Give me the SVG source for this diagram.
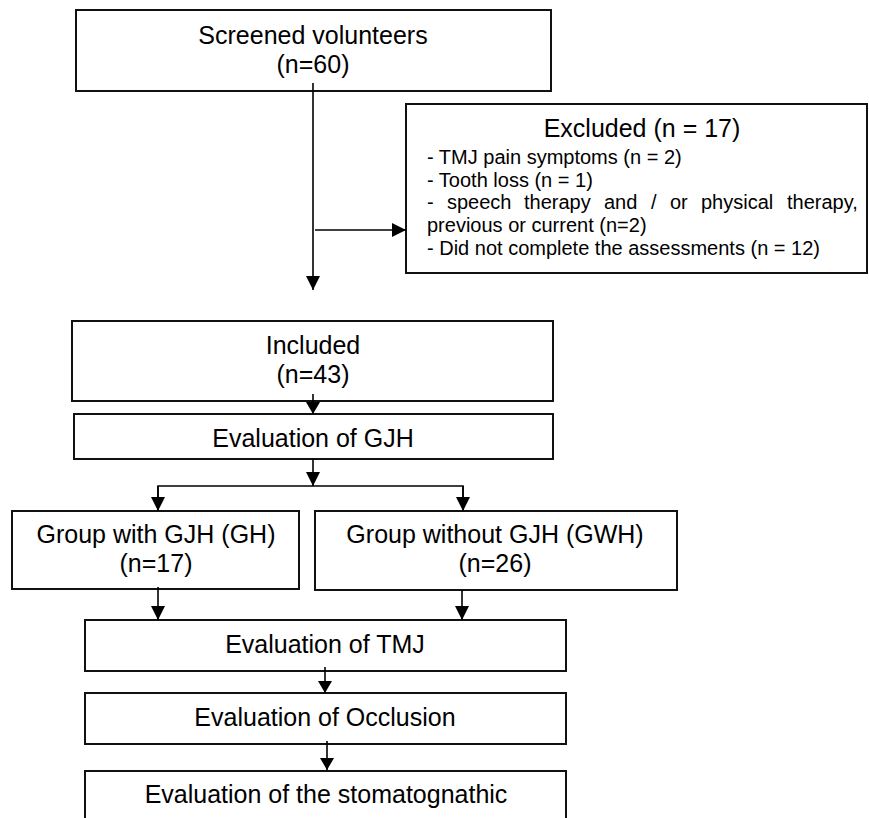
<svg xmlns="http://www.w3.org/2000/svg" width="869" height="818" viewBox="0 0 869 818">
<style>
  .box { fill: #ffffff; stroke: #111111; stroke-width: 2; }
  .t { font-family: "Liberation Sans", Arial, sans-serif; font-size: 25px; fill: #000000; text-anchor: middle; }
  .s { font-family: "Liberation Sans", Arial, sans-serif; font-size: 20px; fill: #000000; }
  .ln { fill: none; stroke: #000000; stroke-width: 1.6; }
</style>
<defs>
  <marker id="ah" markerWidth="14" markerHeight="14" refX="14" refY="7" orient="auto" markerUnits="userSpaceOnUse">
    <path d="M0,0 L14,7 L0,14 z" fill="#000000"/>
  </marker>
  <marker id="ahs" markerWidth="12" markerHeight="14" refX="12" refY="7" orient="auto" markerUnits="userSpaceOnUse">
    <path d="M0,0 L12,7 L0,14 z" fill="#000000"/>
  </marker>
</defs>
<rect width="869" height="818" fill="#ffffff"/>

<g id="screened">
  <rect class="box" x="76" y="10" width="475" height="81"/>
  <text class="t" x="313" y="44">Screened volunteers</text>
  <text class="t" x="313" y="73">(n=60)</text>
</g>

<g id="excluded">
  <rect class="box" x="406" y="104" width="461" height="169"/>
  <text class="t" x="642" y="137">Excluded (n = 17)</text>
  <text class="s" x="427" y="164">- TMJ pain symptoms (n = 2)</text>
  <text class="s" x="427" y="187">- Tooth loss (n = 1)</text>
  <text class="s" y="209"><tspan x="427">-</tspan><tspan x="447">speech</tspan><tspan x="524">therapy</tspan><tspan x="604">and</tspan><tspan x="651">/</tspan><tspan x="670">or</tspan><tspan x="701">physical</tspan><tspan x="787">therapy,</tspan></text>
  <text class="s" x="427" y="232">previous or current (n=2)</text>
  <text class="s" x="427" y="255">- Did not complete the assessments (n = 12)</text>
</g>

<g id="included">
  <rect class="box" x="72" y="321" width="481" height="80"/>
  <text class="t" x="313" y="354">Included</text>
  <text class="t" x="313" y="383">(n=43)</text>
</g>

<g id="gjh">
  <rect class="box" x="74" y="414" width="479" height="45"/>
  <text class="t" x="313" y="447">Evaluation of GJH</text>
</g>

<g id="gh">
  <rect class="box" x="12" y="511" width="287" height="78"/>
  <text class="t" x="156" y="543">Group with GJH (GH)</text>
  <text class="t" x="156" y="572">(n=17)</text>
</g>

<g id="gwh">
  <rect class="box" x="315" y="511" width="362" height="79"/>
  <text class="t" x="495" y="543">Group without GJH (GWH)</text>
  <text class="t" x="495" y="572">(n=26)</text>
</g>

<g id="tmj">
  <rect class="box" x="85" y="620" width="481" height="51"/>
  <text class="t" x="325" y="653">Evaluation of TMJ</text>
</g>

<g id="occlusion">
  <rect class="box" x="85" y="693" width="481" height="51"/>
  <text class="t" x="325" y="726">Evaluation of Occlusion</text>
</g>

<g id="stomatognathic">
  <rect class="box" x="85" y="771" width="481" height="70"/>
  <text class="t" x="326" y="803">Evaluation of the stomatognathic</text>
</g>

<g id="connectors">
  <line class="ln" x1="313" y1="83" x2="313" y2="290" marker-end="url(#ah)"/>
  <line class="ln" x1="315" y1="230" x2="406" y2="230" marker-end="url(#ah)"/>
  <line class="ln" x1="313" y1="394" x2="313" y2="414" marker-end="url(#ahs)"/>
  <line class="ln" x1="313" y1="459" x2="313" y2="486" marker-end="url(#ah)"/>
  <polyline class="ln" points="158,498 158,486 463,486 463,498"/>
  <line class="ln" x1="158" y1="486" x2="158" y2="511" marker-end="url(#ah)"/>
  <line class="ln" x1="463" y1="486" x2="463" y2="511" marker-end="url(#ah)"/>
  <line class="ln" x1="158" y1="587" x2="158" y2="620" marker-end="url(#ah)"/>
  <line class="ln" x1="462" y1="590" x2="462" y2="620" marker-end="url(#ah)"/>
  <line class="ln" x1="325" y1="667" x2="325" y2="693" marker-end="url(#ahs)"/>
  <line class="ln" x1="327" y1="741" x2="327" y2="770" marker-end="url(#ahs)"/>
</g>
</svg>
